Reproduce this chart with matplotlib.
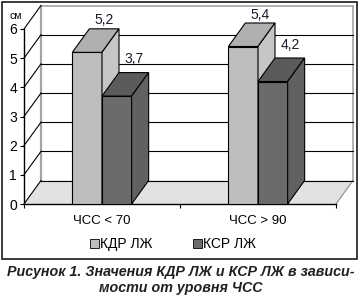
import matplotlib
matplotlib.use("Agg")
import matplotlib.pyplot as plt
from matplotlib.patches import Polygon, Rectangle, Patch
from matplotlib.lines import Line2D

plt.rcParams['font.family'] = ['Liberation Sans', 'DejaVu Sans']

# ---- data ----
categories = ["ЧСС < 70", "ЧСС > 90"]
series_names = ["КДР ЛЖ", "КСР ЛЖ"]
kdr_values = [5.2, 5.4]
ksr_values = [3.7, 4.2]
value_labels_kdr = ["5,2", "5,4"]
value_labels_ksr = ["3,7", "4,2"]
y_ticks = [0, 1, 2, 3, 4, 5, 6]
y_unit = "см"
caption = "Рисунок 1. Значения КДР ЛЖ и КСР ЛЖ в зависи-\nмости от уровня ЧСС"

# ---- styles ----
W, H = 361, 297
light = dict(front='#bebec0', top='#b0b0b0', side='#c6c6c6')
dark = dict(front='#6b6b6b', top='#5b5b5b', side='#616161')
floor_col = '#e2e2e2'
wall_edge = '#a4a4a4'

fig = plt.figure(figsize=(W / 100, H / 100), dpi=100)

# outer frame
fig.patches.append(Rectangle((2 / W, 1 - 259 / H), 355 / W, 257 / H,
                             transform=fig.transFigure, fill=False,
                             edgecolor='#1a1a1a', linewidth=1.2))

ax_l, ax_r, ax_t, ax_b = 24, 336, 29, 204
ax = fig.add_axes([ax_l / W, 1 - ax_b / H, (ax_r - ax_l) / W, (ax_b - ax_t) / H])
ax.set_xlim(0, 2)
ax.set_ylim(0, 6)
ax.patch.set_visible(False)

# depth offset in data units
px_per_x = (ax_r - ax_l) / 2
px_per_y = (ax_b - ax_t) / 6
ddx = 17 / px_per_x
ddy = 23.5 / px_per_y

# floor
ax.add_patch(Polygon([(0, 0), (ddx, ddy), (2 + ddx, ddy), (2, 0)], closed=True,
                     facecolor=floor_col, edgecolor='none', zorder=1, clip_on=False))
ax.add_line(Line2D([2, 2 + ddx], [0, ddy], color='#8c8c8c', lw=0.8, zorder=1.5, clip_on=False))

# back wall edges
ax.add_line(Line2D([ddx, ddx], [ddy, 6 + ddy], color=wall_edge, lw=1.6, zorder=1.4, clip_on=False))
ax.add_line(Line2D([2 + ddx, 2 + ddx], [ddy, 6 + ddy], color=wall_edge, lw=1.2, zorder=1.4, clip_on=False))
ax.add_line(Line2D([ddx, 2 + ddx], [6 + ddy, 6 + ddy], color=wall_edge, lw=1.2, zorder=1.4, clip_on=False))

# gridlines: back wall + side diagonals
for v in y_ticks:
    if v < 6:
        ax.add_line(Line2D([ddx, 2 + ddx], [v + ddy, v + ddy], color='black', lw=0.8,
                           zorder=1.5, clip_on=False))
    ax.add_line(Line2D([0, ddx], [v, v + ddy], color='black', lw=0.8, zorder=1.5, clip_on=False))

# bars
width = 0.19
centers = [0.5, 1.5]


def draw_bar(x0, val, cols, z):
    ax.bar(x0, val, width=width, align='edge', color=cols['front'], edgecolor='black',
           linewidth=0.8, zorder=z)
    ax.add_patch(Polygon([(x0, val), (x0 + ddx, val + ddy), (x0 + width + ddx, val + ddy),
                          (x0 + width, val)], closed=True, facecolor=cols['top'],
                         edgecolor='black', linewidth=0.8, zorder=z, clip_on=False))
    ax.add_patch(Polygon([(x0 + width, 0), (x0 + width, val), (x0 + width + ddx, val + ddy),
                          (x0 + width + ddx, ddy)], closed=True, facecolor=cols['side'],
                         edgecolor='black', linewidth=0.8, zorder=z, clip_on=False))


for i, c in enumerate(centers):
    draw_bar(c - width, kdr_values[i], light, 3 + i)
    draw_bar(c, ksr_values[i], dark, 3.5 + i)
    ax.annotate(value_labels_kdr[i], (c - width / 2 + ddx, kdr_values[i] + ddy),
                xytext=(0, 1.0), textcoords='offset points', ha='center', va='bottom',
                fontsize=10, color='#1a1a2a', annotation_clip=False, zorder=6)
    ax.annotate(value_labels_ksr[i], (c + width / 2 + ddx, ksr_values[i] + ddy),
                xytext=(0, 4.5), textcoords='offset points', ha='center', va='bottom',
                fontsize=10, color='#1a1a2a', annotation_clip=False, zorder=6)

# axes
for s in ['top', 'right']:
    ax.spines[s].set_visible(False)
for s in ['left', 'bottom']:
    ax.spines[s].set_linewidth(1.0)
    ax.spines[s].set_zorder(2)
ax.set_yticks(y_ticks)
ax.set_yticklabels([str(t) for t in y_ticks], fontsize=10)
ax.tick_params(axis='y', length=3, width=0.8, pad=2)
ax.set_xticks([0, 1, 2])
ax.set_xticklabels([])
ax.tick_params(axis='x', which='major', length=3, width=0.8)
ax.set_xticks(centers, minor=True)
ax.set_xticklabels(categories, minor=True, fontsize=9.5)
ax.tick_params(axis='x', which='minor', length=0, pad=8)

# unit label above the y axis, placed in figure pixels
ax.annotate(y_unit, xy=(16, H - 16), xycoords='figure pixels', ha='center', va='center',
            fontsize=7.5, annotation_clip=False)

# legend
handles = [Patch(facecolor=light['front'], edgecolor='black', linewidth=0.6),
           Patch(facecolor=dark['front'], edgecolor='black', linewidth=0.6)]
fig.legend(handles, series_names, loc='center', bbox_to_anchor=(173 / W, 1 - 244 / H),
           ncol=2, frameon=False, fontsize=10, handlelength=0.62, handleheight=0.62,
           handletextpad=0.12, columnspacing=2.9, borderpad=0)

# caption
fig.text(181 / W, 1 - 280 / H, caption, ha='center', va='center', fontsize=10.3,
         fontweight='bold', fontstyle='italic', color='#231f20', linespacing=1.15)

fig.savefig('out.png', dpi=100)
